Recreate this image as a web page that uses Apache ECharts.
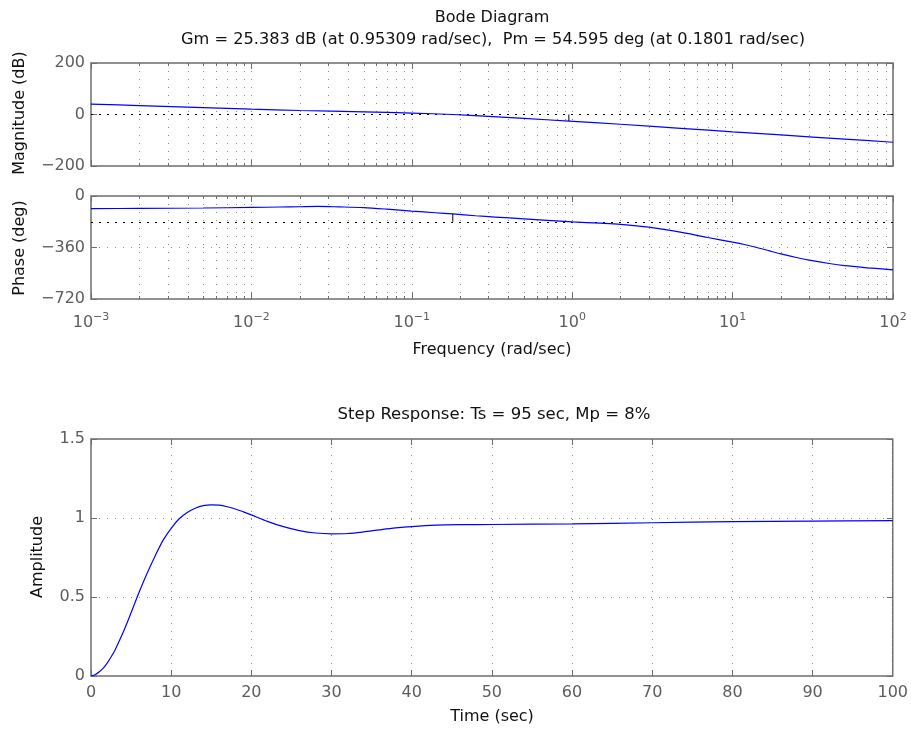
<!DOCTYPE html>
<html>
<head>
<meta charset="utf-8">
<title>Bode Diagram and Step Response</title>
<script src="https://cdn.jsdelivr.net/npm/echarts@6/dist/echarts.min.js"></script>
<style>
  html, body { margin: 0; padding: 0; background: #fff; }
  #chart { width: 911px; height: 731px; }
</style>
</head>
<body>
<div id="chart"></div>
<script>
// Open-loop magnitude response (rad/sec, dB)
const magFreq = [0.001, 0.002, 0.005, 0.01, 0.02, 0.05, 0.1, 0.18, 0.3, 0.5, 0.953, 2, 5, 10, 20, 50, 100];
const magDb   = [40.3, 34.5, 26.7, 20.8, 15.6, 10.0, 5.5, 0, -7.2, -15.3, -25.4, -37.8, -54.5, -67.5, -79.5, -95.5, -107.8];

// Open-loop phase response (rad/sec, deg)
const phaseFreq = [0.001, 0.002, 0.005, 0.01, 0.015, 0.02, 0.026, 0.035, 0.05, 0.07, 0.1, 0.14, 0.18, 0.25, 0.33,
                   0.5, 0.7, 1, 1.5, 2, 3, 5, 7, 10, 12, 14, 17, 20, 25, 30, 40, 50, 70, 100];
const phaseDeg  = [-88, -87, -84, -80, -77, -75, -73, -76, -81, -92, -106, -117, -125.4, -138, -147,
                   -160, -170, -181, -190, -198, -218, -258, -290, -323, -341, -358, -384, -405, -430, -448, -472, -487, -502, -516];

// Closed-loop unit step response (sec, amplitude)
const stepTime = [0, 0.5, 1, 1.5, 2, 2.5, 3, 4, 5, 6, 7, 8, 9, 10, 11, 12, 13, 14, 15, 16, 17, 18, 19, 20,
                  22, 24, 26, 28, 30, 32, 34, 36, 38, 40, 43, 46, 50, 60, 70, 80, 90, 100];
const stepAmp  = [0, 0.008, 0.025, 0.048, 0.08, 0.12, 0.165, 0.275, 0.40, 0.53, 0.65, 0.76, 0.86, 0.935, 0.995, 1.035, 1.062, 1.078, 1.083, 1.081, 1.071, 1.057, 1.039, 1.02,
                  0.979, 0.945, 0.92, 0.905, 0.9, 0.902, 0.912, 0.925, 0.937, 0.946, 0.955, 0.958, 0.959, 0.963, 0.97, 0.977, 0.98, 0.983];

// Stability margins
const gainMargin  = { freq: 0.95309, db: 25.383 };
const phaseMargin = { freq: 0.1801, deg: 54.595 };

// Axis ticks
const freqDecades = [0.001, 0.01, 0.1, 1, 10];
const minorSteps  = [2, 3, 4, 5, 6, 7, 8, 9];
const magRange    = [-200, 200];
const phaseRange  = [-720, 0];
const ampRange    = [0, 1.5];
const timeRange   = [0, 100];

const FONT = 'DejaVu Sans';
const FRAME = '#6e6e6e';
const LABEL = '#5c5c5c';
const GRID = '#8a8a8a';
const BLUE = '#0000ff';

const minorFreqs = [];
freqDecades.forEach(d => minorSteps.forEach(m => minorFreqs.push(+(d * m).toPrecision(3))));

const minus = v => String(v).replace('-', '\u2212');

const gridDash = { color: GRID, width: 1, type: [1, 7] };

function logAxis(gridIndex, position, showLabels, showSplit) {
  return {
    type: 'log', logBase: 10, gridIndex, position,
    min: 0.001, max: 100,
    axisLine: { show: false, onZero: false },
    axisTick: { show: true, inside: true, length: 6, lineStyle: { color: FRAME } },
    splitLine: { show: showSplit, lineStyle: gridDash },
    axisLabel: showLabels ? {
      show: true, margin: 13, color: LABEL, fontFamily: FONT, fontSize: 16,
      formatter: v => '10{s|' + minus(Math.round(Math.log10(v))) + '}',
      rich: { s: { fontSize: 11, fontFamily: FONT, color: LABEL, verticalAlign: 'top', padding: [0, 0, 10, 0] } }
    } : { show: false }
  };
}

function valueAxis(gridIndex, position, range, interval, showLabels, showSplit, fmt) {
  return {
    type: 'value', gridIndex, position,
    min: range[0], max: range[1], interval,
    axisLine: { show: false, onZero: false },
    axisTick: { show: true, inside: true, length: 6, lineStyle: { color: FRAME } },
    splitLine: { show: showSplit, lineStyle: gridDash },
    axisLabel: showLabels ? {
      show: true, margin: position === 'left' ? 6 : 9, color: LABEL, fontFamily: FONT, fontSize: 16,
      formatter: fmt || (v => minus(v))
    } : { show: false }
  };
}

// Dotted minor grid lines and short minor ticks on the log-frequency axes
function minorGrid(yRange) {
  return function (params, api) {
    const f = api.value(0);
    const top = api.coord([f, yRange[1]]);
    const bot = api.coord([f, yRange[0]]);
    const x = Math.round(top[0]) + 0.5;
    return {
      type: 'group',
      children: [
        { type: 'line', shape: { x1: x, y1: top[1], x2: x, y2: bot[1] },
          style: { stroke: GRID, lineWidth: 1, lineDash: [1, 7] }, silent: true },
        { type: 'line', shape: { x1: x, y1: top[1], x2: x, y2: top[1] + 3 },
          style: { stroke: FRAME, lineWidth: 1 }, silent: true },
        { type: 'line', shape: { x1: x, y1: bot[1], x2: x, y2: bot[1] - 3 },
          style: { stroke: FRAME, lineWidth: 1 }, silent: true }
      ]
    };
  };
}

const refLine = (axis, value) => ({
  silent: true, symbol: 'none', label: { show: false },
  lineStyle: { color: '#000', width: 1, type: [2, 6] },
  data: [{ [axis]: value }]
});

const zip = (a, b) => a.map((v, i) => [v, b[i]]);

const gridBox = { show: true, borderColor: FRAME, borderWidth: 1.5, backgroundColor: 'transparent' };

const curve = { smooth: 0.3, showSymbol: false, symbol: 'none', lineStyle: { color: BLUE, width: 1.2 }, z: 5 };

const option = {
  backgroundColor: '#fff',
  animation: false,
  grid: [
    Object.assign({ left: 91, top: 63, width: 802, height: 103 }, gridBox),
    Object.assign({ left: 91, top: 196, width: 802, height: 103 }, gridBox),
    Object.assign({ left: 91, top: 439, width: 802, height: 237 }, gridBox)
  ],
  xAxis: [
    logAxis(0, 'bottom', false, true),
    logAxis(0, 'top', false, false),
    logAxis(1, 'bottom', true, true),
    logAxis(1, 'top', false, false),
    valueAxis(2, 'bottom', timeRange, 10, true, true),
    valueAxis(2, 'top', timeRange, 10, false, false)
  ],
  yAxis: [
    valueAxis(0, 'left', magRange, 200, true, true),
    valueAxis(0, 'right', magRange, 200, false, false),
    valueAxis(1, 'left', phaseRange, 360, true, true),
    valueAxis(1, 'right', phaseRange, 360, false, false),
    valueAxis(2, 'left', ampRange, 0.5, true, true, v => String(v)),
    valueAxis(2, 'right', ampRange, 0.5, false, false)
  ],
  series: [
    {
      type: 'custom', xAxisIndex: 0, yAxisIndex: 0, silent: true, clip: false,
      data: minorFreqs.map(f => [f, magRange[0]]),
      renderItem: minorGrid(magRange), z: 1
    },
    {
      type: 'custom', xAxisIndex: 2, yAxisIndex: 2, silent: true, clip: false,
      data: minorFreqs.map(f => [f, phaseRange[0]]),
      renderItem: minorGrid(phaseRange), z: 1
    },
    Object.assign({
      name: 'Magnitude', type: 'line', xAxisIndex: 0, yAxisIndex: 0,
      data: zip(magFreq, magDb), markLine: refLine('yAxis', 0)
    }, curve),
    {
      name: 'Gain margin', type: 'line', xAxisIndex: 0, yAxisIndex: 0,
      data: [[gainMargin.freq, 0], [gainMargin.freq, -gainMargin.db]],
      symbol: 'none', lineStyle: { color: '#000', width: 1 }, z: 6
    },
    Object.assign({
      name: 'Phase', type: 'line', xAxisIndex: 2, yAxisIndex: 2,
      data: zip(phaseFreq, phaseDeg), markLine: refLine('yAxis', -180)
    }, curve),
    {
      name: 'Phase margin', type: 'line', xAxisIndex: 2, yAxisIndex: 2,
      data: [[phaseMargin.freq, -180], [phaseMargin.freq, -180 + phaseMargin.deg]],
      symbol: 'none', lineStyle: { color: '#000', width: 1 }, z: 6
    },
    Object.assign({
      name: 'Step', type: 'line', xAxisIndex: 4, yAxisIndex: 4,
      data: zip(stepTime, stepAmp)
    }, curve)
  ],
  graphic: [
    { type: 'text', x: 492, y: 18, style: { text: 'Bode Diagram', fontFamily: FONT, fontSize: 16, fill: '#111', align: 'center', verticalAlign: 'middle' } },
    { type: 'text', x: 493, y: 40, style: { text: 'Gm = 25.383 dB (at 0.95309 rad/sec),  Pm = 54.595 deg (at 0.1801 rad/sec)', fontFamily: FONT, fontSize: 16.2, fill: '#111', align: 'center', verticalAlign: 'middle' } },
    { type: 'text', x: 492, y: 350, style: { text: 'Frequency (rad/sec)', fontFamily: FONT, fontSize: 16, fill: '#111', align: 'center', verticalAlign: 'middle' } },
    { type: 'text', x: 494, y: 415, style: { text: 'Step Response: Ts = 95 sec, Mp = 8%', fontFamily: FONT, fontSize: 16.5, fill: '#111', align: 'center', verticalAlign: 'middle' } },
    { type: 'text', x: 492, y: 717, style: { text: 'Time (sec)', fontFamily: FONT, fontSize: 16, fill: '#111', align: 'center', verticalAlign: 'middle' } },
    { type: 'text', x: 20, y: 113, rotation: Math.PI / 2, style: { text: 'Magnitude (dB)', fontFamily: FONT, fontSize: 16, fill: '#111', align: 'center', verticalAlign: 'middle' } },
    { type: 'text', x: 20, y: 248, rotation: Math.PI / 2, style: { text: 'Phase (deg)', fontFamily: FONT, fontSize: 16, fill: '#111', align: 'center', verticalAlign: 'middle' } },
    { type: 'text', x: 38, y: 557, rotation: Math.PI / 2, style: { text: 'Amplitude', fontFamily: FONT, fontSize: 16, fill: '#111', align: 'center', verticalAlign: 'middle' } }
  ]
};

const chart = echarts.init(document.getElementById('chart'), null, { renderer: 'canvas' });
chart.setOption(option);
</script>
</body>
</html>
